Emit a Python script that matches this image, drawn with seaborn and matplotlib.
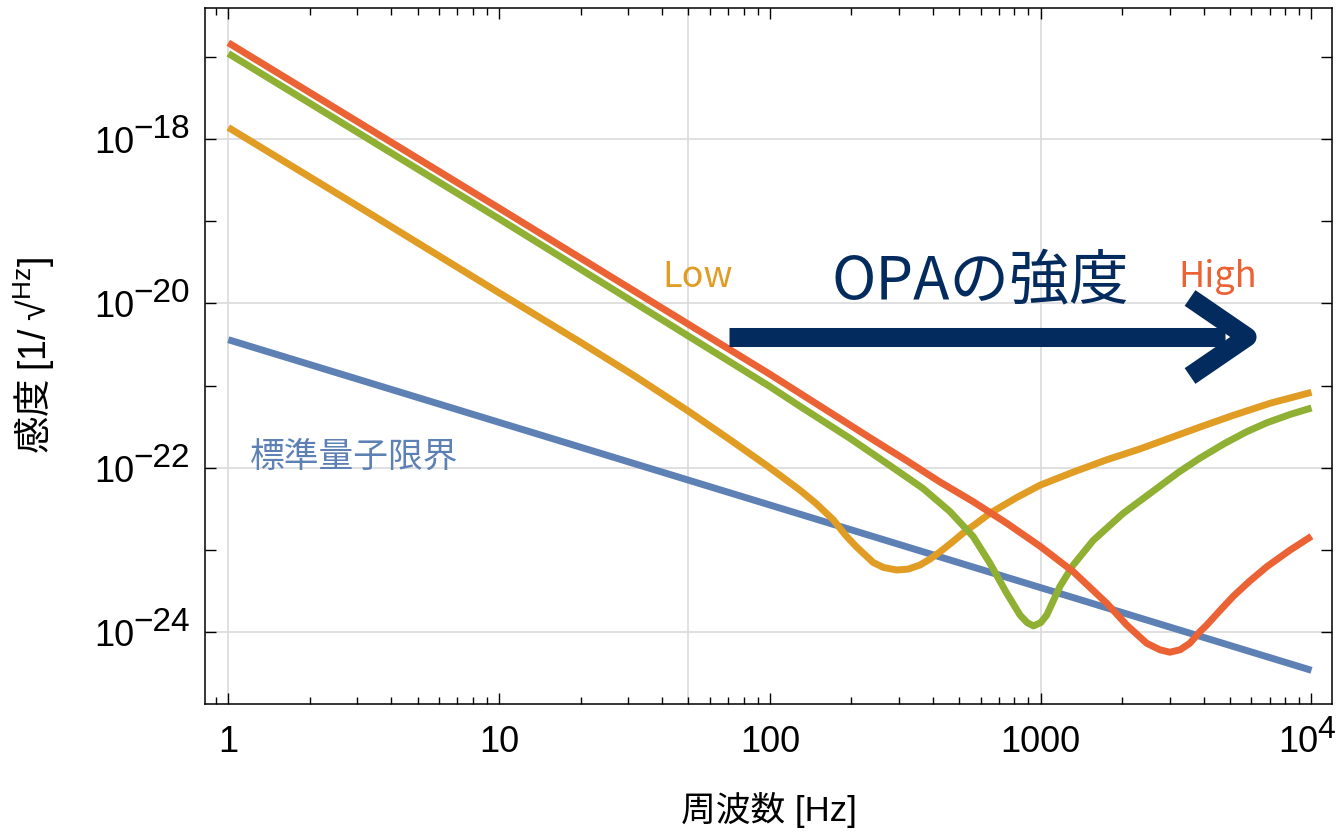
import numpy as np
import pandas as pd
import matplotlib
matplotlib.use("Agg")
import matplotlib.pyplot as plt
import matplotlib.transforms as mtransforms
from matplotlib.ticker import NullLocator, LogLocator, FixedLocator, NullFormatter
import seaborn as sns

# ---------------- data ----------------
# frequencies given as log10(f / Hz), sensitivities as log10(h / (1/sqrt(Hz)))
sql_log_f = [0.0, 4.0]
sql_log_h = [-20.44, -24.46]

low_log_f = [0.0, 0.5, 1.0, 1.3, 1.5, 1.695, 1.85, 1.988, 2.05, 2.111, 2.17,
             2.234, 2.28, 2.32, 2.382, 2.42, 2.468, 2.51, 2.554, 2.59, 2.628,
             2.67, 2.714, 2.76, 2.813, 2.911, 2.997, 3.12, 3.244, 3.365, 3.465,
             3.59, 3.711, 3.85, 4.0]
low_log_h = [-17.86, -18.86, -19.87, -20.47, -20.88, -21.30, -21.65, -21.97,
             -22.12, -22.27, -22.43, -22.63, -22.82, -22.96, -23.15, -23.21,
             -23.24, -23.23, -23.18, -23.11, -23.02, -22.91, -22.79, -22.68,
             -22.55, -22.36, -22.21, -22.05, -21.90, -21.77, -21.65, -21.50,
             -21.36, -21.21, -21.08]

mid_log_f = [0.0, 1.0, 2.0, 2.111, 2.296, 2.443, 2.566, 2.665, 2.751, 2.813,
             2.874, 2.924, 2.95, 2.973, 3.0, 3.022, 3.071, 3.12, 3.194, 3.305,
             3.428, 3.51, 3.588, 3.68, 3.76, 3.835, 3.92, 4.0]
mid_log_h = [-16.96, -18.97, -21.01, -21.25, -21.64, -21.97, -22.25, -22.53,
             -22.835, -23.16, -23.52, -23.79, -23.88, -23.92, -23.88, -23.79,
             -23.44, -23.18, -22.88, -22.55, -22.25, -22.05, -21.88, -21.70,
             -21.56, -21.45, -21.35, -21.27]

high_log_f = [0.0, 1.0, 2.0, 2.383, 2.505, 2.628, 2.751, 2.874, 2.997, 3.12,
              3.244, 3.318, 3.391, 3.44, 3.477, 3.515, 3.551, 3.588, 3.613,
              3.66, 3.711, 3.77, 3.835, 3.92, 4.0]
high_log_h = [-16.83, -18.84, -20.86, -21.66, -21.91, -22.17, -22.41, -22.67,
              -22.95, -23.26, -23.645, -23.91, -24.13, -24.21, -24.24, -24.21,
              -24.13, -23.99, -23.91, -23.74, -23.56, -23.38, -23.20, -23.00,
              -22.83]

series_names = ["標準量子限界", "Low", "Mid", "High"]
series_colors = ["#5E81B5", "#E19C24", "#8FB032", "#EB6235"]

x_tick_values = [1, 10, 100, 1000, 10000]
x_tick_labels = ["1", "10", "100", "1000", ""]
y_label_exponents = [-18, -20, -22, -24]
x_grid_values = [1, 50, 1000]

navy = "#032B5E"

# ---------------- build table ----------------
frames = []
for name, lf, lh in zip(series_names,
                        [sql_log_f, low_log_f, mid_log_f, high_log_f],
                        [sql_log_h, low_log_h, mid_log_h, high_log_h]):
    frames.append(pd.DataFrame({"f": 10.0 ** np.array(lf),
                                "h": 10.0 ** np.array(lh),
                                "series": name}))
df = pd.concat(frames, ignore_index=True)

# ---------------- style ----------------
sns.set_theme(style="ticks")
plt.rcParams["font.family"] = ["Liberation Sans", "Noto Sans CJK JP", "DejaVu Sans"]
plt.rcParams["mathtext.fontset"] = "custom"
plt.rcParams["mathtext.rm"] = "Liberation Sans"
plt.rcParams["mathtext.it"] = "Liberation Sans:italic"
plt.rcParams["mathtext.bf"] = "Liberation Sans:bold"
plt.rcParams["mathtext.fallback"] = "stixsans"
plt.rcParams["axes.linewidth"] = 1.1
plt.rcParams["axes.edgecolor"] = "black"

fig = plt.figure(figsize=(13.37, 8.32), dpi=100)
ax = fig.add_axes([0.15355, 0.15349, 0.84271, 0.83654])
ax.set_xscale("log")
ax.set_yscale("log")

ax.set_xlim(10 ** -0.0849, 10 ** 4.0757)
ax.set_ylim(10 ** -24.873, 10 ** -16.411)

# grid lines
for gx in x_grid_values:
    ax.axvline(gx, color="#dadada", lw=1.2, zorder=0.5)
for e in y_label_exponents:
    ax.axhline(10.0 ** e, color="#dadada", lw=1.2, zorder=0.5)

sns.lineplot(data=df, x="f", y="h", hue="series", hue_order=series_names,
             palette=series_colors, estimator=None, sort=False, legend=False,
             linewidth=5, solid_capstyle="butt", solid_joinstyle="round", ax=ax)
ax.set_xlabel("")
ax.set_ylabel("")

# ticks
ax.xaxis.set_major_locator(FixedLocator(x_tick_values))
ax.set_xticklabels(x_tick_labels)
ax.xaxis.set_minor_locator(LogLocator(base=10, subs=np.arange(2, 10) / 1.0, numticks=30))
ax.xaxis.set_minor_formatter(NullFormatter())
ax.yaxis.set_major_locator(FixedLocator([10.0 ** k for k in range(-24, -16)]))
ax.yaxis.set_minor_locator(NullLocator())
ax.tick_params(which="both", direction="in", top=True, right=True,
               color="black", width=1.0)
ax.tick_params(which="major", length=8)
ax.tick_params(which="minor", length=5)
ax.tick_params(axis="y", labelleft=False)
ax.tick_params(axis="x", labelsize=26, pad=15, labelcolor="black")
for lab in ax.get_xticklabels():
    lab.set_fontfamily(["Liberation Sans"])

# custom y tick labels 10^n with large exponents
ytr = ax.get_yaxis_transform()
for e in y_label_exponents:
    t1 = mtransforms.offset_copy(ytr, fig=fig, x=-70.5, y=-14, units="dots")
    ax.text(0, 10.0 ** e, "10", transform=t1, ha="right", va="baseline",
            fontsize=26, family=["Liberation Sans"], color="black")
    t2 = mtransforms.offset_copy(ytr, fig=fig, x=-72, y=1, units="dots")
    ax.text(0, 10.0 ** e, "\u2212" + str(abs(e)), transform=t2, ha="left",
            va="baseline", fontsize=24, family=["Liberation Sans"], color="black")

# 10^4 label on x axis
xtr = ax.get_xaxis_transform()
t3 = mtransforms.offset_copy(xtr, fig=fig, x=6.5, y=-47.4, units="dots")
ax.text(10000, 0, "10", transform=t3, ha="right", va="baseline", fontsize=26,
        family=["Liberation Sans"], color="black", clip_on=False)
t4 = mtransforms.offset_copy(xtr, fig=fig, x=6.0, y=-33.5, units="dots")
ax.text(10000, 0, "4", transform=t4, ha="left", va="baseline", fontsize=23,
        family=["Liberation Sans"], color="black", clip_on=False)

# axis labels
fig.text(0.5752, 0.0264, "周波数 [Hz]", ha="center", va="center", fontsize=25,
         family=["Liberation Sans", "Noto Sans CJK JP"], color="black")
fig.text(0.0254, 0.5733,
         "感度 $\\mathrm{[1/}\\;\\mathrm{\u221a}^{\\mathrm{Hz}}\\mathrm{]}$",
         ha="center", va="center", rotation=90, fontsize=27,
         family=["Noto Sans CJK JP"], color="black")

# annotations
ax.text(0.1321, 0.3546, "標準量子限界", transform=ax.transAxes, ha="center",
        va="center", fontsize=25, family=["Noto Sans CJK JP"], color=series_colors[0])
ax.text(0.4367, 0.600, "Low", transform=ax.transAxes, ha="center",
        va="baseline", fontsize=26, family=["Noto Sans CJK JP"], color=series_colors[1])
ax.text(0.8985, 0.5996, "High", transform=ax.transAxes, ha="center",
        va="baseline", fontsize=26, family=["Noto Sans CJK JP"], color=series_colors[3])
ax.text(0.6882, 0.6068, "OPAの強度", transform=ax.transAxes, ha="center",
        va="center", fontsize=43, family=["Noto Sans CJK JP"], color=navy)

# big arrow
ax.plot([0.4648, 0.905], [0.5277, 0.5277], transform=ax.transAxes, color=navy,
        lw=13.7, solid_capstyle="butt", clip_on=False, zorder=5)
ax.plot([0.8740, 0.9246, 0.8740], [0.5838, 0.5277, 0.4717], transform=ax.transAxes,
        color=navy, lw=13.7, solid_capstyle="butt", solid_joinstyle="round",
        clip_on=False, zorder=5)

for s in ax.spines.values():
    s.set_color("black")
    s.set_linewidth(1.1)

fig.savefig("out.png", dpi=100, facecolor="white")
